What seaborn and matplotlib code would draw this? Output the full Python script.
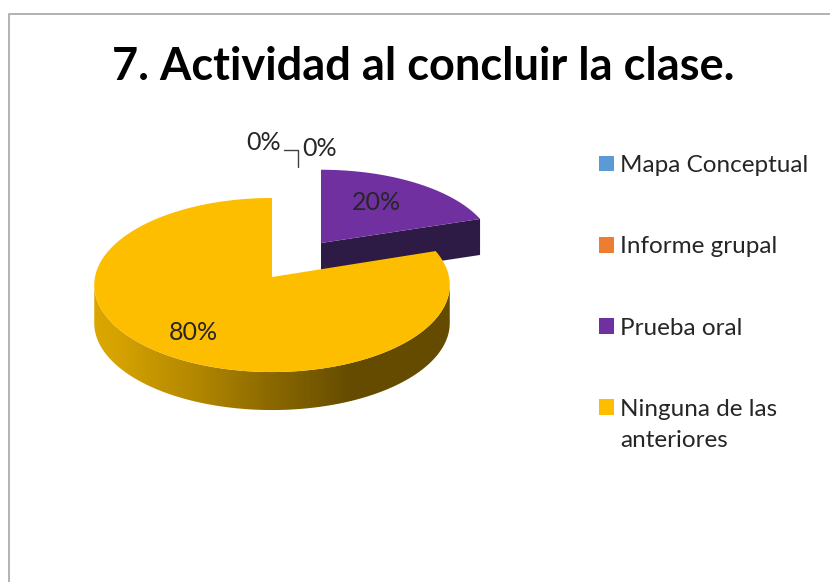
import numpy as np
import matplotlib
matplotlib.use("Agg")
import matplotlib.pyplot as plt
import seaborn as sns
from matplotlib.colors import LinearSegmentedColormap
from matplotlib.patches import Patch, Polygon

title = "7. Actividad al concluir la clase."
categories = ["Mapa Conceptual", "Informe grupal", "Prueba oral", "Ninguna de las\nanteriores"]
values = [0, 0, 20, 80]
colors = ["#5b9bd5", "#ed7d31", "#7030a0", "#fdbe00"]

sns.set_theme(style="white")
plt.rcParams["font.family"] = ["Lato", "DejaVu Sans"]
text_color = "#262626"

fig = plt.figure(figsize=(8.3, 5.82), dpi=100)
ax = fig.add_axes([0, 0, 1, 1])
palette = sns.color_palette(colors)

# pie gives the angles, the slanted 3D faces are drawn from them
wedges, _ = ax.pie(values, colors=palette, startangle=90, counterclock=False)
for w in wedges:
    w.set_visible(False)
ax.set_aspect("auto")

K = 0.092  # perspective


def project(theta, cx, cy, rx, ry):
    t = np.radians(theta)
    d = 1 + K * np.sin(t)
    return np.column_stack([cx + rx * np.cos(t) / d, cy - ry * np.sin(t) / d])


def top_face(w, cx, cy, rx, ry):
    arc = project(np.linspace(w.theta1, w.theta2, 200), cx, cy, rx, ry)
    return np.vstack([[cx, cy], arc])


# Prueba oral, pulled out of the pie
purple = wedges[2]
p_geo = (321, 243, 172, 80)
p_depth = 36
apex = np.array(p_geo[:2], dtype=float)
edge = project(np.array([purple.theta1]), *p_geo)[0]
wall = np.array([apex, edge, edge + [0, p_depth], apex + [0, p_depth]])
ax.add_patch(Polygon(wall, closed=True, fc="#2d1a45", ec="none", zorder=2))
ax.add_patch(Polygon(top_face(purple, *p_geo), closed=True, fc=palette[2], ec="none", zorder=3))

# Ninguna de las anteriores
yellow = wedges[3]
y_geo = (272, 277, 177, 86.3)
y_depth = 38
rim = project(np.linspace(-5, -175, 300), *y_geo)
band = np.vstack([rim, (rim + [0, y_depth])[::-1]])
band_patch = Polygon(band, closed=True, fc="none", ec="none", zorder=4)
ax.add_patch(band_patch)
side_cmap = LinearSegmentedColormap.from_list(
    "side",
    [(0, "#dba600"), (0.06, "#d6a300"), (0.3, "#b08500"), (0.5, "#8a6800"), (0.72, "#654c00"), (1, "#644b00")],
)
grad = ax.imshow(
    np.linspace(0, 1, 256).reshape(1, -1),
    extent=(94, 450, 415, 270),
    cmap=side_cmap,
    aspect="auto",
    zorder=4,
)
grad.set_clip_path(band_patch)
ax.add_patch(Polygon(top_face(yellow, *y_geo), closed=True, fc=palette[3], ec="none", zorder=5))

ax.set_xlim(0, 830)
ax.set_ylim(582, 0)
ax.set_axis_off()

# chart frame, only top and left show
ax.plot([9, 9, 830], [582, 14, 14], color="#a6a6a6", lw=1.2, zorder=1)

ax.text(423, 67, title, ha="center", va="center", fontsize=32.5, fontweight="bold", color="black")

# data labels
label_pos = [(264, 143), (320, 149), (376, 202), (193, 332)]
for v, (x, y) in zip(values, label_pos):
    ax.text(x, y, f"{v}%", ha="center", va="center", fontsize=18, color=text_color, zorder=6)
ax.plot([284, 298, 298], [150, 150, 167], color="#404040", lw=1, zorder=6)

handles = [Patch(fc=c, ec="none", label=l) for c, l in zip(palette, categories)]
leg = ax.legend(
    handles=handles,
    loc="upper left",
    bbox_to_anchor=(599 / 830, 1 - 155 / 582),
    borderaxespad=0,
    borderpad=0,
    frameon=False,
    fontsize=17.5,
    handlelength=0.62,
    handleheight=0.62,
    handletextpad=0.25,
    labelspacing=2.48,
    labelcolor=text_color,
)
for t in leg.get_texts():
    t.set_linespacing(1.6)
# two-line entry: square sits next to the first line
last = leg.legend_handles[3]
last.set_y(last.get_y() + 13)

fig.savefig("out.png", dpi=100, facecolor="white")
